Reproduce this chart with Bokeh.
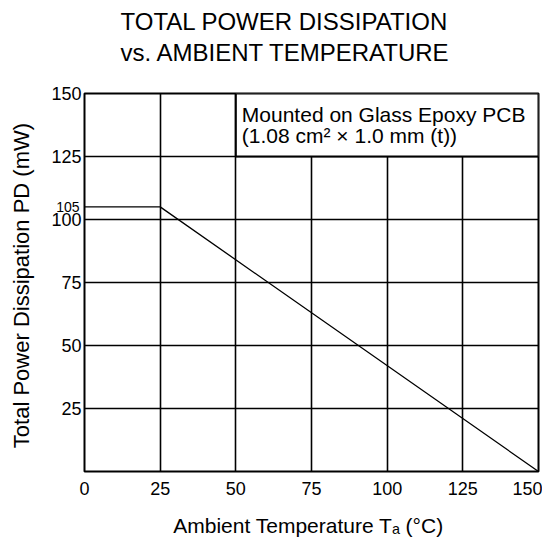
from bokeh.plotting import figure
from bokeh.models import (Range1d, FixedTicker, BoxAnnotation, Label, Title, LinearAxis)
from bokeh.embed import file_html
from bokeh.resources import INLINE

# data
temp = [0, 25, 150]
power = [105, 105, 0]
x_ticks = [0, 25, 50, 75, 100, 125, 150]
y_ticks = [25, 50, 75, 100, 125, 150]
derate_mark = [105]
note_lines = ["Mounted on Glass Epoxy PCB", "(1.08 cm\u00b2 \u00d7 1.0 mm (t))"]
title_lines = ["TOTAL POWER DISSIPATION", "vs. AMBIENT TEMPERATURE"]

FONT = "Liberation Sans"

p = figure(output_backend="svg", toolbar_location=None,
           x_range=Range1d(0, 150), y_range=Range1d(0, 150),
           frame_width=454, frame_height=378,
           min_border_left=84, min_border_right=4, min_border_top=0,
           min_border_bottom=60)

p.title = Title(text="\n".join(title_lines), align="left", text_font=FONT,
                text_font_size="24px", text_font_style="normal",
                text_color="black", offset=36, standoff=14,
                vertical_align="top", text_line_height=1.15)
# blank spacer title between the heading and the frame
p.add_layout(Title(text="\u00a0", standoff=0, text_font=FONT,
                   text_font_size="15px"), "above")

p.outline_line_color = "black"
p.outline_line_width = 2
p.outline_line_alpha = 1

p.xgrid.ticker = FixedTicker(ticks=x_ticks[1:-1])
p.ygrid.ticker = FixedTicker(ticks=y_ticks[:-1])
for g in (p.xgrid, p.ygrid):
    g.grid_line_color = "black"
    g.grid_line_width = 1.6
    g.grid_line_alpha = 1

# small axis carrying the 105 mark, placed next to the frame
ax105 = LinearAxis(ticker=FixedTicker(ticks=derate_mark))
p.left = [ax105] + list(p.left)

p.xaxis.ticker = FixedTicker(ticks=x_ticks)
p.yaxis[1].ticker = FixedTicker(ticks=y_ticks)
for ax in list(p.xaxis) + list(p.yaxis):
    ax.axis_line_color = None
    ax.major_tick_line_color = None
    ax.minor_tick_line_color = None
    ax.major_tick_out = 0
    ax.major_tick_in = 0
    ax.minor_tick_out = 0
    ax.minor_tick_in = 0
    ax.major_label_text_font = FONT
    ax.major_label_text_font_size = "18px"
    ax.major_label_text_color = "black"
    ax.axis_label_text_font = FONT
    ax.axis_label_text_font_style = "normal"
    ax.axis_label_text_color = "black"

ax105.major_label_text_font_size = "14px"
ax105.major_label_standoff = 5
ax105.major_label_text_baseline = "bottom"

p.xaxis.major_label_standoff = 10
p.xaxis.axis_label = "Ambient Temperature  T\u2090 (\u00b0C)"
p.xaxis.axis_label_text_font_size = "21px"
p.xaxis.axis_label_standoff = 16

ymain = p.yaxis[1]
ymain.major_label_standoff = -28
ymain.axis_label = "Total Power Dissipation  PD (mW)"
ymain.axis_label_text_font_size = "22px"
ymain.axis_label_standoff = 14

p.line(temp, power, line_color="black", line_width=1.3)

box = BoxAnnotation(left=50, right=150, bottom=125, top=150,
                    fill_color="white", fill_alpha=1,
                    line_color="black", line_width=2, line_alpha=1)
p.add_layout(box)

p.add_layout(Label(x=50, y=150, text=note_lines[0], x_offset=6, y_offset=-21,
                   text_baseline="alphabetic", level="overlay",
                   text_font=FONT, text_font_size="21px", text_color="black"))
p.add_layout(Label(x=50, y=150, text=note_lines[1], x_offset=6, y_offset=-42,
                   text_baseline="alphabetic", level="overlay",
                   text_font=FONT, text_font_size="21px", text_color="black"))

open("out.html", "w").write(file_html(p, INLINE))
